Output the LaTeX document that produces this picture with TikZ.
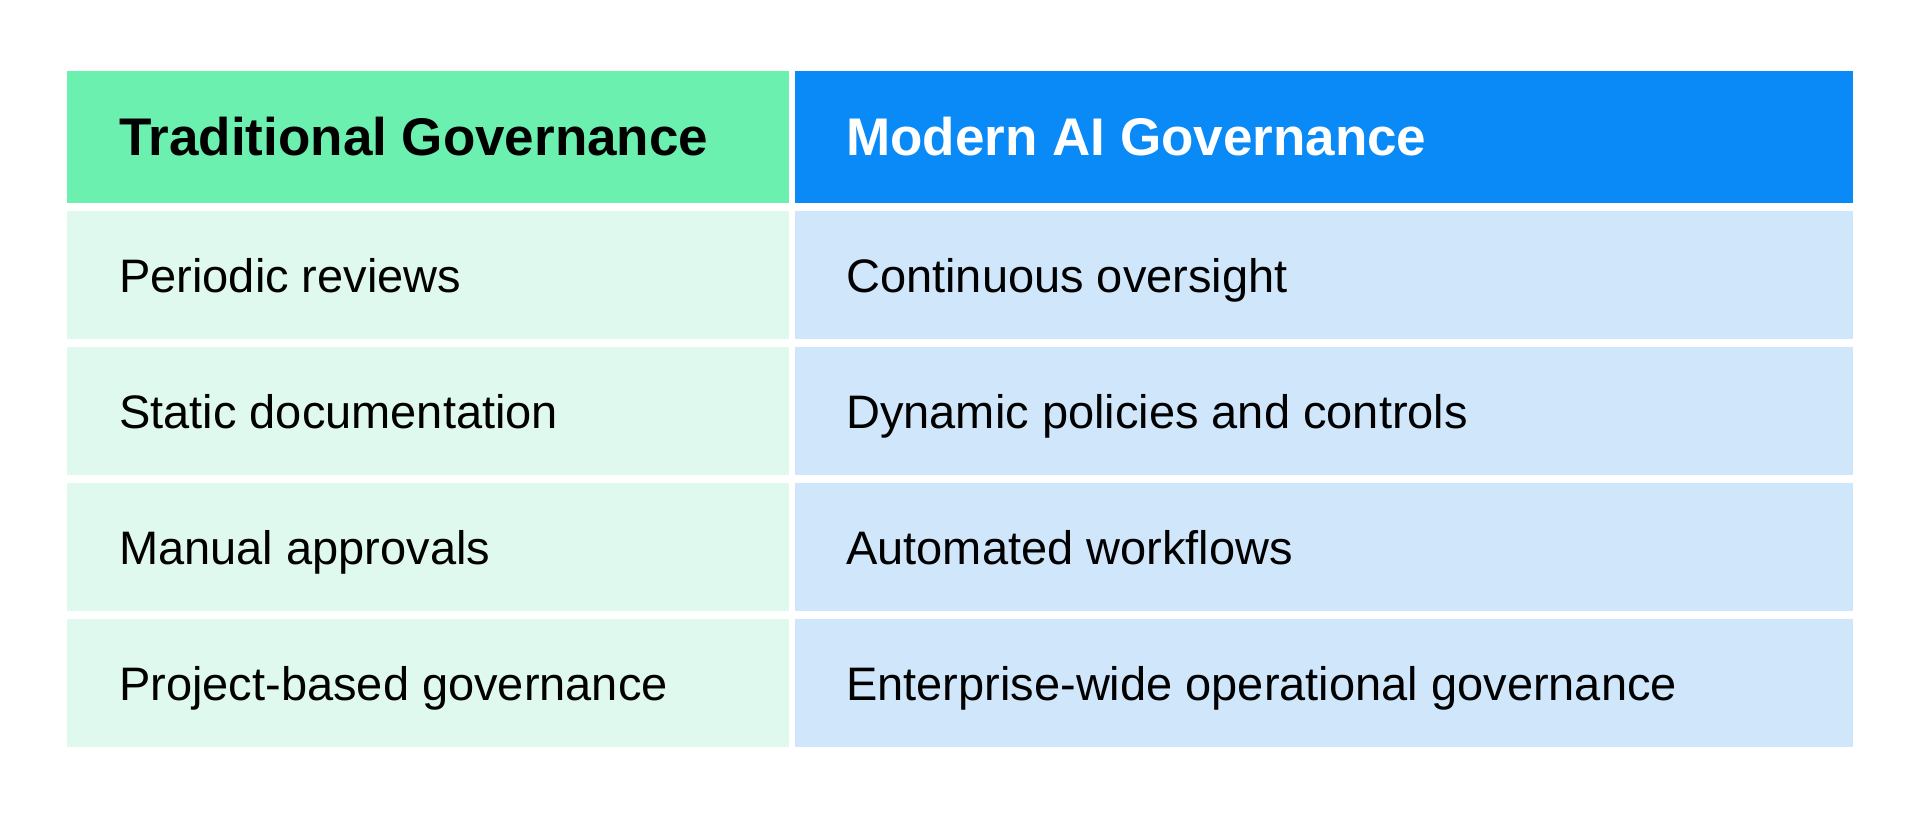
\documentclass[tikz,border=0pt]{standalone}
\usepackage{fontspec}
\setmainfont{Liberation Sans}
\definecolor{hg}{HTML}{6CF0B0}
\definecolor{hb}{HTML}{0A8AF6}
\definecolor{lg}{HTML}{E0F9EF}
\definecolor{lb}{HTML}{D0E7FB}
\begin{document}
\begin{tikzpicture}[x=1pt,y=-1pt,
 cell/.style={inner sep=0pt,outer sep=0pt},
 txt/.style={anchor=base west,inner sep=0pt,font=\fontsize{47}{56}\selectfont,text=black},
 htxt/.style={anchor=base west,inner sep=0pt,font=\fontsize{53}{62}\selectfont\bfseries}]
\useasboundingbox (0,0) rectangle (1921,821);
\fill[white] (0,0) rectangle (1921,821);
\fill[hg] (67,71) rectangle (789,203);
\fill[hb] (795,71) rectangle (1853,203);
\node[htxt,text=black] (h1) at (119,156) {Traditional Governance};
\node[htxt,text=white] (h2) at (846,156) {Modern AI Governance};
\foreach \t/\a/\b [count=\i] in {211/Periodic reviews/Continuous oversight,
 347/Static documentation/Dynamic policies and controls,
 483/Manual approvals/Automated workflows,
 619/Project-based governance/Enterprise-wide operational governance}{
 \fill[lg] (67,\t) rectangle (789,\t+128);
 \fill[lb] (795,\t) rectangle (1853,\t+128);
 \node[txt] (l\i) at (119,\t+81) {\a};
 \node[txt] (r\i) at (846,\t+81) {\b};
}
\end{tikzpicture}
\end{document}
